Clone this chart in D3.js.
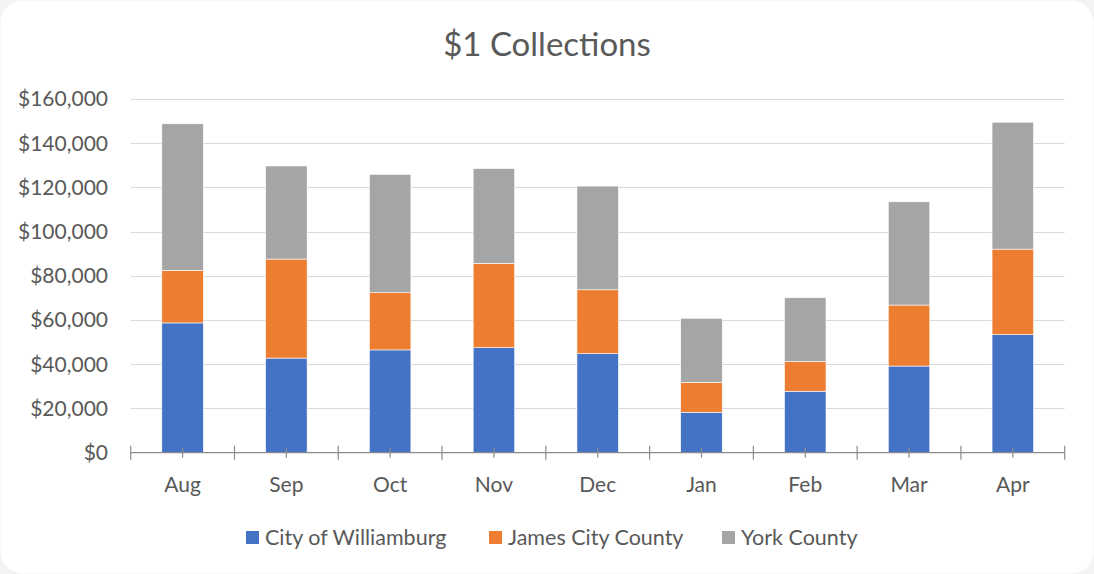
<!DOCTYPE html>
<html>
<head>
<meta charset="utf-8">
<script src="https://cdn.jsdelivr.net/npm/d3@7"></script>
<style>
  html, body { margin: 0; padding: 0; background: #f3f3f3; }
  svg { display: block; }
</style>
</head>
<body>
<div id="chart"></div>
<script>
// ---- data ----
const months = ['Aug', 'Sep', 'Oct', 'Nov', 'Dec', 'Jan', 'Feb', 'Mar', 'Apr']
const seriesNames = ['City of Williamburg', 'James City County', 'York County']
const williamsburg = [58700, 42800, 46500, 47500, 44800, 18300, 27800, 39200, 53400]
const jamesCity = [23800, 44800, 25900, 38200, 28900, 13500, 13400, 27600, 38700]
const yorkCounty = [66300, 42100, 53500, 42800, 46900, 29000, 28900, 46700, 57400]
const yTicks = [0, 20000, 40000, 60000, 80000, 100000, 120000, 140000, 160000]
const colors = ['#4472c4', '#ed7d31', '#a5a5a5']

const width = 1094
const height = 574
const font = "Lato, 'Open Sans', sans-serif"
const textColor = '#595959'

// build rows for d3.stack
const rows = months.map(function(m, i){
    return { month: m, s0: williamsburg[i], s1: jamesCity[i], s2: yorkCounty[i] }
})
const stacked = d3.stack().keys(['s0', 's1', 's2'])(rows)

const svg = d3.select('#chart').append('svg')
    .attr('width', width)
    .attr('height', height)

// white card with rounded corners
svg.append('rect')
    .attr('x', 0.5).attr('y', 0.5)
    .attr('width', width - 1).attr('height', height - 1)
    .attr('rx', 22).attr('ry', 22)
    .attr('fill', '#ffffff')

// ---- scales ----
const x = d3.scaleBand().domain(months).range([130.7, 1064.7]).paddingInner(0.6).paddingOuter(0.3)
const xBand = d3.scaleBand().domain(months).range([130.7, 1064.7])
const y = d3.scaleLinear().domain([0, 160000]).range([452.7, 99])

// gridlines
svg.append('g').selectAll('line').data(yTicks.filter(d => d > 0)).enter().append('line')
    .attr('x1', 130.7).attr('x2', 1064.7)
    .attr('y1', d => Math.round(y(d)) + 0.5).attr('y2', d => Math.round(y(d)) + 0.5)
    .attr('stroke', '#d9d9d9').attr('stroke-width', 1)

// y labels
svg.append('g').selectAll('text').data(yTicks).enter().append('text')
    .attr('x', 108).attr('y', d => y(d))
    .attr('dy', '0.35em')
    .attr('text-anchor', 'end')
    .attr('fill', textColor)
    .style('font-family', font).style('font-size', '21px')
    .text(d => d3.format('$,')(d))

// ---- bars ----
const layers = svg.append('g').selectAll('g').data(stacked).enter().append('g')
    .attr('fill', (d, i) => colors[i])
layers.selectAll('rect').data(d => d).enter().append('rect')
    .attr('x', d => x(d.data.month))
    .attr('width', x.bandwidth())
    .attr('y', d => y(d[1]))
    .attr('height', d => y(d[0]) - y(d[1]))
    .attr('stroke', '#ffffff').attr('stroke-width', 0.6)

// ---- x axis ----
const axisG = svg.append('g').attr('transform', 'translate(0,452.7)')
axisG.append('line')
    .attr('x1', 130.7).attr('x2', 1064.7)
    .attr('stroke', '#8c8c8c').attr('stroke-width', 1.2)
const bounds = months.map(m => xBand(m)).concat([1064.7])
axisG.selectAll('.bTick').data(bounds).enter().append('line').attr('class', 'bTick')
    .attr('x1', d => d).attr('x2', d => d)
    .attr('y1', -7).attr('y2', 7)
    .attr('stroke', '#8c8c8c').attr('stroke-width', 1.2)
axisG.selectAll('.cTick').data(months).enter().append('line').attr('class', 'cTick')
    .attr('x1', d => xBand(d) + xBand.bandwidth() / 2).attr('x2', d => xBand(d) + xBand.bandwidth() / 2)
    .attr('y1', -5).attr('y2', 5)
    .attr('stroke', '#8c8c8c').attr('stroke-width', 1.2)
axisG.selectAll('text').data(months).enter().append('text')
    .attr('x', d => xBand(d) + xBand.bandwidth() / 2)
    .attr('y', 31.5)
    .attr('dy', '0.35em')
    .attr('text-anchor', 'middle')
    .attr('fill', textColor)
    .style('font-family', font).style('font-size', '21px')
    .text(d => d)

// ---- title ----
svg.append('text')
    .attr('x', 547).attr('y', 44)
    .attr('dy', '0.35em')
    .attr('text-anchor', 'middle')
    .attr('fill', textColor)
    .style('font-family', font).style('font-size', '33px')
    .text('$1 Collections')

// ---- legend ----
const legendX = [246, 489, 722]
const legend = svg.append('g').selectAll('g').data(seriesNames).enter().append('g')
    .attr('transform', (d, i) => 'translate(' + legendX[i] + ',531)')
legend.append('rect')
    .attr('width', 13).attr('height', 13)
    .attr('fill', (d, i) => colors[i])
legend.append('text')
    .attr('x', 19).attr('y', 6.5)
    .attr('dy', '0.35em')
    .attr('fill', textColor)
    .style('font-family', font).style('font-size', '21.5px')
    .text(d => d)
</script>
</body>
</html>
